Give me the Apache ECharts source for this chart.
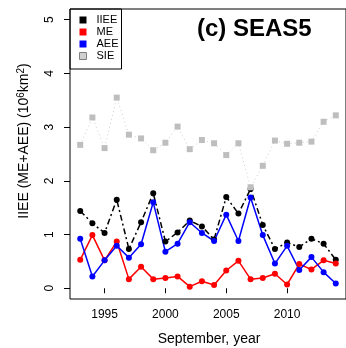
<!DOCTYPE html>
<html>
<head>
<meta charset="utf-8">
<script src="https://cdn.jsdelivr.net/npm/echarts@6/dist/echarts.min.js"></script>
<style>
  html, body { margin: 0; padding: 0; background: #fff; }
  #chart { width: 346px; height: 348px; }
</style>
</head>
<body>
<div id="chart"></div>
<script>
// September values, 1993-2014 (10^6 km^2)
const years = [1993, 1994, 1995, 1996, 1997, 1998, 1999, 2000, 2001, 2002, 2003,
               2004, 2005, 2006, 2007, 2008, 2009, 2010, 2011, 2012, 2013, 2014];
const iiee = [1.44, 1.21, 1.03, 1.65, 0.73, 1.23, 1.77, 0.87, 1.04, 1.26, 1.15,
              0.91, 1.70, 1.39, 1.85, 1.18, 0.73, 0.85, 0.77, 0.92, 0.83, 0.53];
const me   = [0.53, 0.99, 0.52, 0.87, 0.17, 0.40, 0.17, 0.19, 0.22, 0.03, 0.13,
              0.06, 0.33, 0.51, 0.17, 0.19, 0.27, 0.07, 0.45, 0.35, 0.52, 0.46];
const aee  = [0.92, 0.22, 0.52, 0.79, 0.57, 0.82, 1.60, 0.68, 0.83, 1.23, 1.03,
              0.88, 1.37, 0.88, 1.69, 0.99, 0.46, 0.79, 0.34, 0.58, 0.30, 0.09];
const sie  = [2.67, 3.18, 2.61, 3.55, 2.86, 2.79, 2.57, 2.71, 3.01, 2.59, 2.76,
              2.70, 2.48, 2.70, 1.88, 2.28, 2.75, 2.69, 2.71, 2.73, 3.10, 3.22];
const xTicks = [1995, 2000, 2005, 2010];
const yTicks = [0, 1, 2, 3, 4, 5];

const font = 'Liberation Sans, Arial, sans-serif';

function pairs(vals) {
  return years.map(function (y, i) { return [y, vals[i]]; });
}

const chart = echarts.init(document.getElementById('chart'));

const option = {
  animation: false,
  textStyle: { fontFamily: font },
  grid: {
    left: 70, top: 9, right: -2, bottom: 49,
    show: true, borderColor: '#000', borderWidth: 1
  },
  graphic: [
    {
      type: 'text', left: 197, top: 17,
      style: { text: '(c) SEAS5', font: 'bold 24px ' + font, fill: '#000' }
    },
    {
      type: 'text', x: 24, y: 141, rotation: Math.PI / 2,
      style: {
        text: 'IIEE (ME+AEE) (10{sup|6}km{sup|2})',
        rich: { sup: { fontSize: 10, verticalAlign: 'top', padding: [0, 0, 6, 0] } },
        fontSize: 14, fontFamily: font, fill: '#000',
        align: 'center', verticalAlign: 'middle'
      }
    },
    {
      type: 'text', x: 209, y: 339,
      style: {
        text: 'September, year', fontSize: 14, fontFamily: font, fill: '#000',
        align: 'center', verticalAlign: 'middle'
      }
    }
  ],
  legend: {
    orient: 'vertical',
    left: 70, top: 9,
    padding: [5, 3, 7, 9],
    itemGap: 0,
    itemWidth: 7, itemHeight: 7,
    icon: 'rect',
    borderColor: '#000', borderWidth: 1,
    selectedMode: false,
    textStyle: { fontSize: 11, lineHeight: 12, color: '#000', padding: [0, 0, 0, 5] },
    data: [
      { name: 'IIEE' },
      { name: 'ME' },
      { name: 'AEE' },
      { name: 'SIE', itemStyle: { color: '#d0d0d0', borderColor: '#808080', borderWidth: 1 } }
    ]
  },
  xAxis: {
    type: 'value',
    min: 1992.16, max: 2014.84,
    splitLine: { show: false },
    axisLine: { show: false },
    axisTick: { show: true, inside: false, length: 5, customValues: xTicks,
                lineStyle: { color: '#000' } },
    axisLabel: {
      customValues: xTicks, fontSize: 12, color: '#000', margin: 10,
      formatter: function (v) { return String(v); }
    }
  },
  yAxis: {
    type: 'value',
    min: -0.2, max: 5.2,
    splitLine: { show: false },
    axisLine: { show: false },
    axisTick: { show: true, inside: false, length: 6, customValues: yTicks,
                lineStyle: { color: '#000' } },
    axisLabel: { customValues: yTicks, fontSize: 12, color: '#000', rotate: 90, margin: 14 }
  },
  series: [
    {
      name: 'IIEE', type: 'line', data: pairs(iiee),
      symbol: 'circle', symbolSize: 6,
      itemStyle: { color: '#000' },
      lineStyle: { color: '#000', width: 1.5, type: [6, 3, 2, 3] }
    },
    {
      name: 'ME', type: 'line', data: pairs(me),
      symbol: 'circle', symbolSize: 6,
      itemStyle: { color: '#ff0000' },
      lineStyle: { color: '#ff0000', width: 1.5 }
    },
    {
      name: 'AEE', type: 'line', data: pairs(aee),
      symbol: 'circle', symbolSize: 6,
      itemStyle: { color: '#0000ff' },
      lineStyle: { color: '#0000ff', width: 1.5 }
    },
    {
      name: 'SIE', type: 'line', data: pairs(sie),
      symbol: 'rect', symbolSize: 6,
      itemStyle: { color: '#bebebe' },
      lineStyle: { color: '#cccccc', width: 1, type: [1, 3] }
    }
  ]
};

chart.setOption(option);
</script>
</body>
</html>
